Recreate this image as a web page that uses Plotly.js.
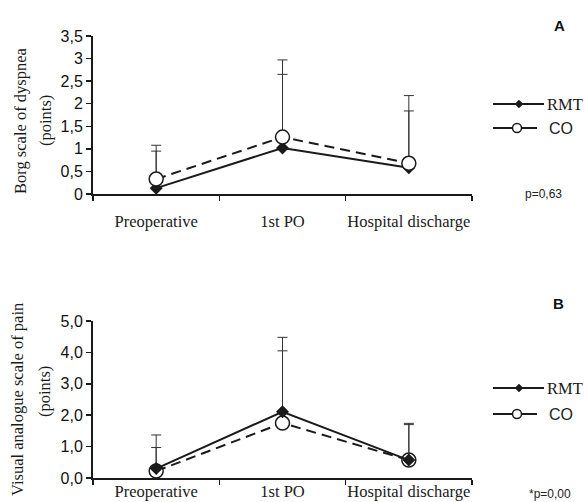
<!DOCTYPE html>
<html>
<head>
<meta charset="utf-8">
<script src="https://cdn.plot.ly/plotly-3.0.1.min.js"></script>
<style>html,body{margin:0;padding:0;background:#fff;}#chart{width:584px;height:502px;}</style>
</head>
<body>
<div id="chart"></div>
<script>
// ---- data ----
const categories = ['Preoperative', '1st PO', 'Hospital discharge'];
const borgRMT = [0.13, 1.02, 0.58];
const borgCO = [0.33, 1.26, 0.68];
const borgRMTsd = [0.82, 1.63, 1.26];
const borgCOsd = [0.75, 1.71, 1.50];
const vasRMT = [0.30, 2.11, 0.57];
const vasCO = [0.22, 1.75, 0.57];
const vasRMTsd = [1.07, 2.37, 1.17];
const vasCOsd = [0.75, 2.30, 1.13];
const borgTicks = [0, 0.5, 1, 1.5, 2, 2.5, 3, 3.5];
const vasTicks = [0, 1, 2, 3, 4, 5];
const seriesNames = ['RMT', 'CO'];

const W = 584, H = 502;
const px = x => x / W;
const py = y => 1 - y / H;
const ink = '#1a1a1a';
const serif = 'Liberation Serif, Times New Roman, serif';
const sans = 'Liberation Sans, Arial, sans-serif';

function rmtTrace(y, sd, xa, ya) {
  return {
    x: categories, y: y, xaxis: xa, yaxis: ya, name: seriesNames[0], type: 'scatter', mode: 'lines+markers',
    line: {color: ink, width: 2},
    marker: {symbol: 'diamond', size: 10, color: ink, line: {width: 0}},
    error_y: {type: 'data', symmetric: false, array: sd, arrayminus: sd.map(() => 0), color: '#333', thickness: 1, width: 5},
    showlegend: false, cliponaxis: false
  };
}
function coTrace(y, sd, xa, ya) {
  return {
    x: categories, y: y, xaxis: xa, yaxis: ya, name: seriesNames[1], type: 'scatter', mode: 'lines+markers',
    line: {color: ink, width: 2, dash: '10px,6px'},
    marker: {symbol: 'circle', size: 14, color: '#fff', line: {width: 1.5, color: ink}},
    error_y: {type: 'data', symmetric: false, array: sd, arrayminus: sd.map(() => 0), color: '#333', thickness: 1, width: 5},
    showlegend: false, cliponaxis: false
  };
}

const data = [
  rmtTrace(borgRMT, borgRMTsd, 'x', 'y'),
  coTrace(borgCO, borgCOsd, 'x', 'y'),
  coTrace(vasCO, vasCOsd, 'x2', 'y2'),
  rmtTrace(vasRMT, vasRMTsd, 'x2', 'y2')
];

const xBase = {
  type: 'category', range: [-0.5, 2.5], domain: [px(93), px(472)],
  showline: true, linewidth: 2, linecolor: ink, ticks: 'outside', tickson: 'boundaries',
  ticklen: 5, tickwidth: 1.5, tickcolor: ink, showgrid: false, zeroline: false, tickangle: 0,
  tickfont: {family: serif, size: 16.5, color: '#1a1a1a'}, fixedrange: true
};
const yBase = {
  showline: true, linewidth: 2, linecolor: ink, ticks: 'outside', ticklen: 5, tickwidth: 1.5,
  tickcolor: ink, showgrid: false, zeroline: false,
  tickfont: {family: sans, size: 16, color: '#111'}, fixedrange: true
};

function txt(x, y, text, font, extra) {
  return Object.assign({xref: 'paper', yref: 'paper', x: px(x), y: py(y), text: text, showarrow: false,
    xanchor: 'center', yanchor: 'middle', font: font}, extra || {});
}
const serif16 = {family: serif, size: 16.5, color: '#1a1a1a'};

const layout = {
  width: W, height: H, margin: {l: 0, r: 0, t: 0, b: 0},
  paper_bgcolor: '#fff', plot_bgcolor: '#fff', separators: ',.', showlegend: false,
  xaxis: Object.assign({}, xBase, {anchor: 'y', ticklabelstandoff: 11}),
  yaxis: Object.assign({}, yBase, {anchor: 'x', domain: [py(194), py(36)], range: [0, 3.5], tickvals: borgTicks}),
  xaxis2: Object.assign({}, xBase, {anchor: 'y2', ticklabelstandoff: -3}),
  yaxis2: Object.assign({}, yBase, {anchor: 'x2', domain: [py(478), py(321)], range: [0, 5], tickvals: vasTicks, tickformat: '.1f'}),
  annotations: [
    txt(20, 121, 'Borg scale of dyspnea', serif16, {textangle: -90}),
    txt(45, 121, '(points)', serif16, {textangle: -90}),
    txt(17, 400, 'Visual analogue scale of pain', serif16, {textangle: -90}),
    txt(44, 392, '(points)', serif16, {textangle: -90}),
    txt(559, 26, '<b>A</b>', {family: sans, size: 15, color: '#111'}),
    txt(558, 303, '<b>B</b>', {family: sans, size: 15, color: '#111'}),
    txt(543, 194, 'p=0,63', {family: sans, size: 12, color: '#222'}),
    txt(550, 494, '*p=0,00', {family: sans, size: 12, color: '#222'}),
    {xref: 'x2', yref: 'y2', x: categories[1], y: 5.1, text: '*', showarrow: false, font: {family: sans, size: 13, color: '#222'}},
    // legend texts
    txt(545, 104, seriesNames[0], serif16, {xanchor: 'left'}),
    txt(547, 128, seriesNames[1], {family: sans, size: 16, color: '#222'}, {xanchor: 'left'}),
    txt(545, 388, seriesNames[0], serif16, {xanchor: 'left'}),
    txt(547, 414, seriesNames[1], {family: sans, size: 16, color: '#222'}, {xanchor: 'left'})
  ],
  shapes: []
};

// manual legend symbols
function legendRMT(yPix) {
  layout.shapes.push({type: 'line', xref: 'paper', yref: 'paper', x0: px(493), x1: px(544), y0: py(yPix), y1: py(yPix), line: {color: ink, width: 2}});
  layout.shapes.push({type: 'path', xref: 'paper', yref: 'paper', xsizemode: 'pixel', ysizemode: 'pixel', xanchor: px(519), yanchor: py(yPix),
    path: 'M0,4 L4,0 L0,-4 L-4,0 Z', fillcolor: ink, line: {color: ink, width: 0.5}});
}
function legendCO(yPix) {
  layout.shapes.push({type: 'line', xref: 'paper', yref: 'paper', x0: px(493), x1: px(537), y0: py(yPix), y1: py(yPix), line: {color: ink, width: 2}});
  layout.shapes.push({type: 'circle', xref: 'paper', yref: 'paper', xsizemode: 'pixel', ysizemode: 'pixel', xanchor: px(517), yanchor: py(yPix),
    x0: -4.5, x1: 4.5, y0: -4.5, y1: 4.5, fillcolor: '#fff', line: {color: ink, width: 1.5}});
}
legendRMT(104); legendCO(128);
legendRMT(388); legendCO(414);

Plotly.newPlot('chart', data, layout, {staticPlot: true});
</script>
</body>
</html>
